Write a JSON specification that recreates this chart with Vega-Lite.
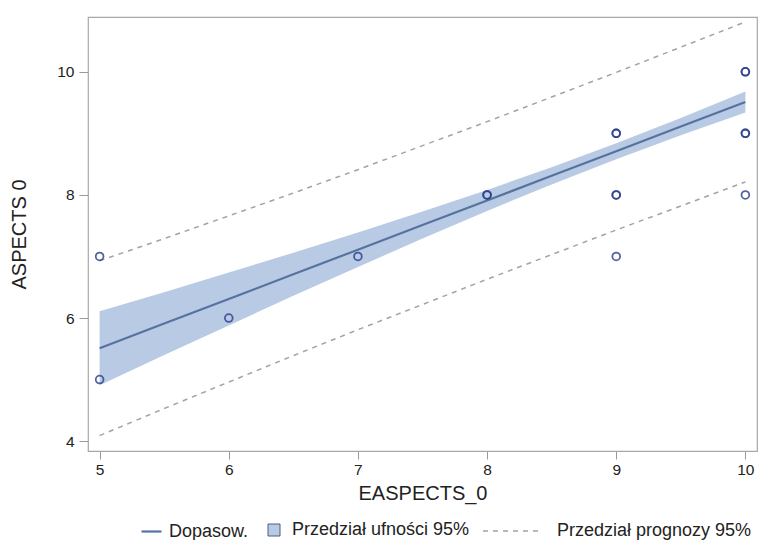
{
  "$schema": "https://vega.github.io/schema/vega-lite/v6.json",
  "width": 669,
  "height": 434,
  "autosize": {"type": "none"},
  "padding": {"left": 88, "top": 17, "right": 9, "bottom": 89},
  "background": "white",
  "config": {
    "font": "Liberation Sans",
    "view": {"stroke": "#a8a8a8", "strokeWidth": 1.2},
    "axis": {
      "domain": false,
      "grid": false,
      "tickColor": "#9a9a9a",
      "labelFontSize": 15.5,
      "labelColor": "#222222",
      "titleFontSize": 20,
      "titleFontWeight": "normal",
      "titleColor": "#222222"
    },
    "legend": {
      "title": null,
      "orient": "none",
      "padding": 0,
      "labelFontSize": 18,
      "labelLimit": 400,
      "labelColor": "#222222"
    }
  },
  "datasets": {
    "curve": [
      {"x": 5, "fit": 5.51, "ci_lo": 4.91, "ci_hi": 6.11, "pi_lo": 4.09, "pi_hi": 6.93},
      {"x": 5.5, "fit": 5.91, "ci_lo": 5.40, "ci_hi": 6.42, "pi_lo": 4.53, "pi_hi": 7.29},
      {"x": 6, "fit": 6.31, "ci_lo": 5.88, "ci_hi": 6.74, "pi_lo": 4.96, "pi_hi": 7.66},
      {"x": 6.5, "fit": 6.71, "ci_lo": 6.36, "ci_hi": 7.06, "pi_lo": 5.39, "pi_hi": 8.03},
      {"x": 7, "fit": 7.11, "ci_lo": 6.83, "ci_hi": 7.39, "pi_lo": 5.81, "pi_hi": 8.41},
      {"x": 7.5, "fit": 7.51, "ci_lo": 7.29, "ci_hi": 7.73, "pi_lo": 6.22, "pi_hi": 8.80},
      {"x": 8, "fit": 7.91, "ci_lo": 7.74, "ci_hi": 8.08, "pi_lo": 6.63, "pi_hi": 9.19},
      {"x": 8.5, "fit": 8.31, "ci_lo": 8.17, "ci_hi": 8.45, "pi_lo": 7.03, "pi_hi": 9.59},
      {"x": 9, "fit": 8.71, "ci_lo": 8.58, "ci_hi": 8.84, "pi_lo": 7.43, "pi_hi": 9.99},
      {"x": 9.5, "fit": 9.11, "ci_lo": 8.97, "ci_hi": 9.25, "pi_lo": 7.82, "pi_hi": 10.40},
      {"x": 10, "fit": 9.51, "ci_lo": 9.34, "ci_hi": 9.68, "pi_lo": 8.21, "pi_hi": 10.81}
    ],
    "pts": [
      {"x": 5, "y": 7},
      {"x": 5, "y": 5},
      {"x": 6, "y": 6},
      {"x": 7, "y": 7},
      {"x": 8, "y": 8},
      {"x": 8, "y": 8},
      {"x": 9, "y": 9},
      {"x": 9, "y": 9},
      {"x": 9, "y": 8},
      {"x": 9, "y": 8},
      {"x": 9, "y": 7},
      {"x": 10, "y": 10},
      {"x": 10, "y": 10},
      {"x": 10, "y": 9},
      {"x": 10, "y": 9},
      {"x": 10, "y": 8}
    ]
  },
  "layer": [
    {
      "data": {"name": "curve"},
      "mark": {"type": "area", "opacity": 1},
      "encoding": {
        "x": {"field": "x", "type": "quantitative", "scale": {"domain": [4.91, 10.09], "nice": false, "zero": false},
              "axis": {"values": [5, 6, 7, 8, 9, 10], "format": "d", "tickSize": 8, "labelPadding": 3, "title": "EASPECTS_0", "titlePadding": 6}},
        "y": {"field": "ci_lo", "type": "quantitative", "scale": {"domain": [3.84, 10.89], "nice": false, "zero": false},
              "axis": {"values": [4, 6, 8, 10], "format": "d", "tickSize": 9, "labelPadding": 5, "title": "ASPECTS 0", "titlePadding": 27}},
        "y2": {"field": "ci_hi"},
        "fill": {
          "datum": "Przedział ufności 95%",
          "type": "nominal",
          "scale": {"range": ["#b8cae4"]},
          "legend": {
            "legendX": 177,
            "legendY": 504,
            "symbolType": "square",
            "symbolSize": 144,
            "symbolStrokeColor": "#4a5f80",
            "symbolStrokeWidth": 1,
            "labelOffset": 9
          }
        }
      }
    },
    {
      "data": {"name": "curve"},
      "mark": {"type": "line", "strokeWidth": 2.2},
      "encoding": {
        "x": {"field": "x", "type": "quantitative"},
        "y": {"field": "fit", "type": "quantitative"},
        "color": {
          "datum": "Dopasow.",
          "type": "nominal",
          "scale": {"range": ["#56739f"]},
          "legend": {
            "legendX": 52,
            "legendY": 503,
            "symbolType": "stroke",
            "symbolSize": 400,
            "symbolStrokeWidth": 2.2,
            "labelOffset": 6
          }
        }
      }
    },
    {
      "data": {"name": "curve"},
      "mark": {"type": "line", "strokeWidth": 1.5, "color": "#a3a3a3"},
      "encoding": {
        "x": {"field": "x", "type": "quantitative"},
        "y": {"field": "pi_lo", "type": "quantitative"},
        "strokeDash": {
          "datum": "Przedział prognozy 95%",
          "type": "nominal",
          "scale": {"range": [[5, 5]]},
          "legend": {
            "legendX": 394,
            "legendY": 484,
            "symbolType": "stroke",
            "symbolSize": 3364,
            "symbolStrokeWidth": 1.3,
            "symbolStrokeColor": "#a3a3a3",
            "labelOffset": 15
          }
        }
      }
    },
    {
      "data": {"name": "curve"},
      "mark": {"type": "line", "strokeWidth": 1.5, "color": "#a3a3a3"},
      "encoding": {
        "x": {"field": "x", "type": "quantitative"},
        "y": {"field": "pi_hi", "type": "quantitative"},
        "strokeDash": {"datum": "Przedział prognozy 95%", "type": "nominal"}
      }
    },
    {
      "data": {"name": "pts"},
      "mark": {"type": "point", "shape": "circle", "filled": false, "size": 60, "strokeWidth": 1.8, "color": "#2b3d8c", "opacity": 0.8},
      "encoding": {
        "x": {"field": "x", "type": "quantitative"},
        "y": {"field": "y", "type": "quantitative"}
      }
    }
  ]
}
